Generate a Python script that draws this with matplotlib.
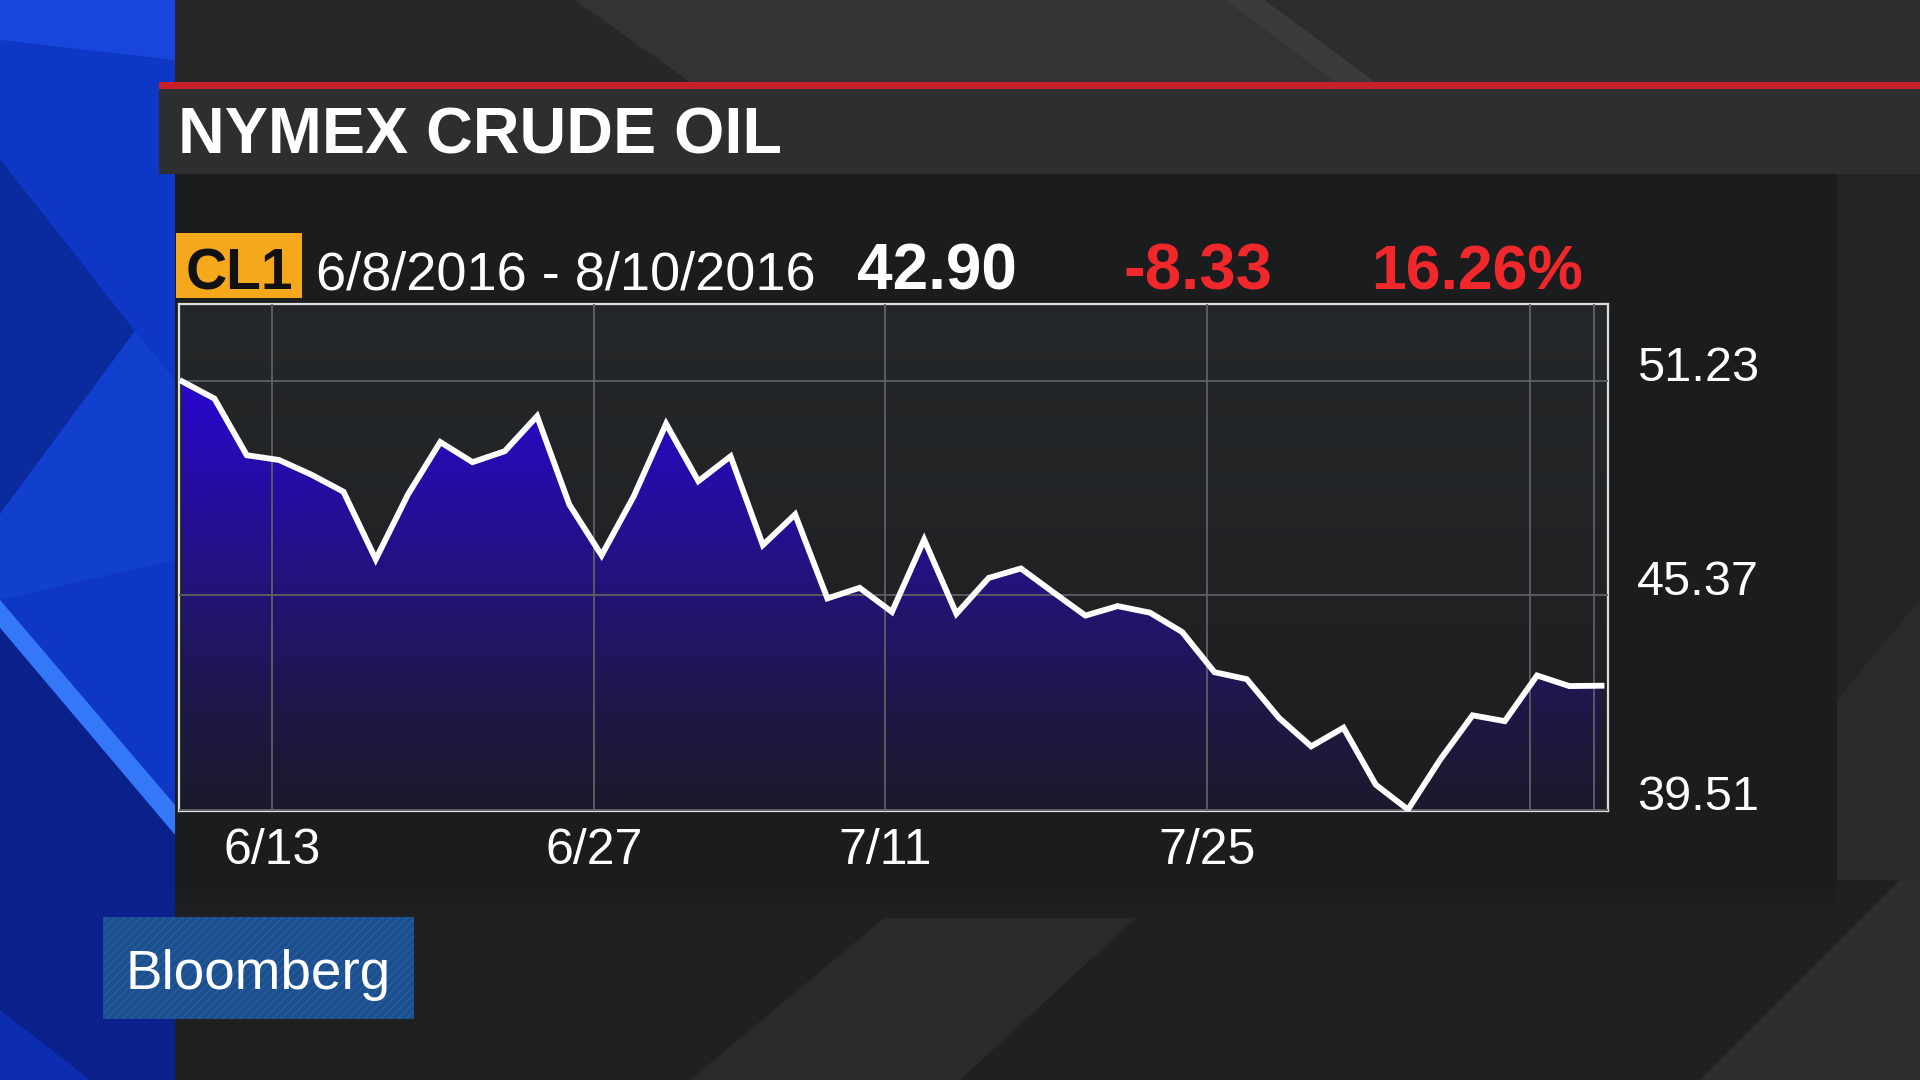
import matplotlib
matplotlib.use("Agg")
import matplotlib.pyplot as plt
import numpy as np
from matplotlib.patches import Rectangle, Polygon
from matplotlib.colors import LinearSegmentedColormap

plt.rcParams['font.family'] = ['Liberation Sans', 'DejaVu Sans']

# ---------------- data ----------------
dates = ["6/8", "6/9", "6/10", "6/13", "6/14", "6/15", "6/16", "6/17",
         "6/20", "6/21", "6/22", "6/23", "6/24", "6/27", "6/28", "6/29",
         "6/30", "7/1", "7/5", "7/6", "7/7", "7/8", "7/11", "7/12", "7/13",
         "7/14", "7/15", "7/18", "7/19", "7/20", "7/21", "7/22", "7/25",
         "7/26", "7/27", "7/28", "7/29", "8/1", "8/2", "8/3", "8/4", "8/5",
         "8/8", "8/9", "8/10"]
prices = [51.23, 50.76, 49.21, 49.08, 48.68, 48.21, 46.36, 48.14, 49.57,
          49.02, 49.32, 50.28, 47.86, 46.47, 48.09, 50.07, 48.50, 49.18,
          46.75, 47.59, 45.29, 45.58, 44.92, 46.90, 44.87, 45.85, 46.11,
          45.46, 44.82, 45.08, 44.90, 44.37, 43.27, 43.08, 42.02, 41.24,
          41.75, 40.19, 39.51, 40.88, 42.09, 41.93, 43.18, 42.89, 42.90]
x_label_dates = ["6/13", "6/27", "7/11", "7/25"]
x_grid_only_dates = ["8/8", "8/10"]
y_ticks = [39.51, 45.37, 51.23]
y_tick_labels = ["39.51", "45.37", "51.23"]

title = "NYMEX CRUDE OIL"
ticker = "CL1"
date_range = "6/8/2016 - 8/10/2016"
last_price = "42.90"
net_change = "-8.33"
pct_change = "16.26%"
brand = "Bloomberg"

# ---------------- figure & background ----------------
W, H = 1920, 1080
fig = plt.figure(figsize=(19.2, 10.8), dpi=100)
fig.patch.set_facecolor("#272727")
bg = fig.add_axes([0, 0, 1, 1], zorder=0)
bg.set_xlim(0, W)
bg.set_ylim(H, 0)
bg.axis("off")


def rect(x0, y0, x1, y1, color, **kw):
    bg.add_patch(Rectangle((x0, y0), x1 - x0, y1 - y0, facecolor=color,
                           edgecolor="none", **kw))


def poly(pts, color, **kw):
    bg.add_patch(Polygon(pts, closed=True, facecolor=color, edgecolor="none", **kw))


# general background with subtle diagonal shapes
rect(0, 0, W, H, "#272727")
poly([(575, 0), (1225, 0), (1335, 82), (690, 82)], "#333333")
poly([(1225, 0), (1265, 0), (1375, 82), (1335, 82)], "#3b3b3b")
poly([(1265, 0), (1920, 0), (1920, 82), (1375, 82)], "#2d2d2d")
rect(0, 880, W, H, "#202020")
poly([(690, 1080), (900, 905), (1150, 905), (960, 1080)], "#2a2a2a")
poly([(1700, 1080), (1920, 860), (1920, 1080)], "#2e2e2e")
rect(1837, 174, W, 880, "#242424")
poly([(1837, 700), (1920, 600), (1920, 880), (1837, 880)], "#2a2a2a")

# blue left strip
rect(0, 0, 175, H, "#0d37c4")
poly([(0, 0), (175, 0), (175, 60), (0, 40)], "#1846dc")
poly([(0, 159), (135, 331), (0, 514)], "#0a2a9e")
poly([(0, 514), (135, 331), (175, 380), (175, 560), (0, 600)], "#1140cf")
poly([(0, 600), (175, 805), (175, 835), (0, 628)], "#3478f8")
poly([(0, 628), (175, 835), (175, H), (0, H)], "#0a218c")
poly([(0, 1010), (90, 1080), (0, 1080)], "#0c2db0")

# title bar
rect(159, 82, W, 89, "#c8202a")
rect(159, 89, W, 174, "#2d2e30")
bg.text(178, 153, title, fontsize=46.5, fontweight="bold", color="white",
        va="baseline", ha="left")

# chart panel (soft lower edge)
rect(175, 174, 1837, 890, "#1b1c1e")
rect(175, 890, 1837, 905, "#1d1e20")
rect(175, 905, 1837, 918, "#1f1f21")

# header row
rect(176, 233, 302, 298, "#f5a81c")
bg.text(239, 290, ticker, fontsize=41, fontweight="bold", color="#111111",
        va="baseline", ha="center")
bg.text(316, 290, date_range, fontsize=39, color="white", va="baseline", ha="left")
bg.text(857, 290, last_price, fontsize=46, fontweight="bold", color="white",
        va="baseline", ha="left")
bg.text(1124, 290, net_change, fontsize=47, fontweight="bold", color="#f0282c",
        va="baseline", ha="left")
bg.text(1371, 290, pct_change, fontsize=45, fontweight="bold", color="#f0282c",
        va="baseline", ha="left")

# Bloomberg logo box
rect(103, 917, 414, 1019, "#1c4f8e")
bg.add_patch(Rectangle((103, 917), 311, 102, facecolor="none",
                       edgecolor="#2a5d9d", hatch="////", linewidth=0))
bg.text(126, 989, brand, fontsize=39.5, color="white", va="baseline", ha="left")

# ---------------- chart ----------------
ax = fig.add_axes([179 / W, (H - 811) / H, (1608 - 179) / W, (811 - 304) / H], zorder=2)
x = np.arange(len(prices))
x0, x1 = -0.1, len(prices) - 1 + 0.2
y0, y1 = 39.47, 53.35
tick_shift = -0.22  # date gridlines sit slightly left of the sample points

grad = np.linspace(0, 1, 256).reshape(-1, 1)
bg_cmap = LinearSegmentedColormap.from_list("bgc", ["#1c1d1f", "#25282a"])
ax.imshow(grad, extent=[x0, x1, y0, y1], aspect="auto", cmap=bg_cmap,
          origin="lower", zorder=0, interpolation="bilinear")


def vpos(v):
    return (v - y0) / (y1 - y0)


fill_cmap = LinearSegmentedColormap.from_list(
    "fillc", [(0.0, "#1b1a2b"), (vpos(42.0), "#1e1844"), (vpos(45.0), "#22146f"),
              (vpos(51.3), "#2a06d0"), (1.0, "#2a06d0")])
fill = ax.fill_between(x, prices, y0, facecolor="none", edgecolor="none")
im = ax.imshow(grad, extent=[x0, x1, y0, y1], aspect="auto", cmap=fill_cmap,
               origin="lower", zorder=1, interpolation="bilinear")
im.set_clip_path(fill.get_paths()[0], transform=ax.transData)

ax.plot(x, prices, color="white", lw=4.2, zorder=3, solid_joinstyle="miter")

ax.set_xlim(x0, x1)
ax.set_ylim(y0, y1)

ax.set_xticks([dates.index(d) + tick_shift for d in x_label_dates], x_label_dates)
ax.set_xticks([dates.index(d) + tick_shift for d in x_grid_only_dates], minor=True)
ax.set_yticks(y_ticks, y_tick_labels)
ax.yaxis.tick_right()
ax.set_axisbelow(False)
ax.grid(True, which="both", color="#5e6164", lw=1.3)
ax.tick_params(axis="both", which="both", length=0, colors="white")
ax.tick_params(axis="y", pad=21, labelsize=35)
ax.tick_params(axis="x", pad=12, labelsize=36)
for t in ax.get_yticklabels():
    t.set_verticalalignment("baseline")
for s in ax.spines.values():
    s.set_color("#dedede")
    s.set_linewidth(1.6)

fig.savefig("out.png", dpi=100, facecolor=fig.get_facecolor())
